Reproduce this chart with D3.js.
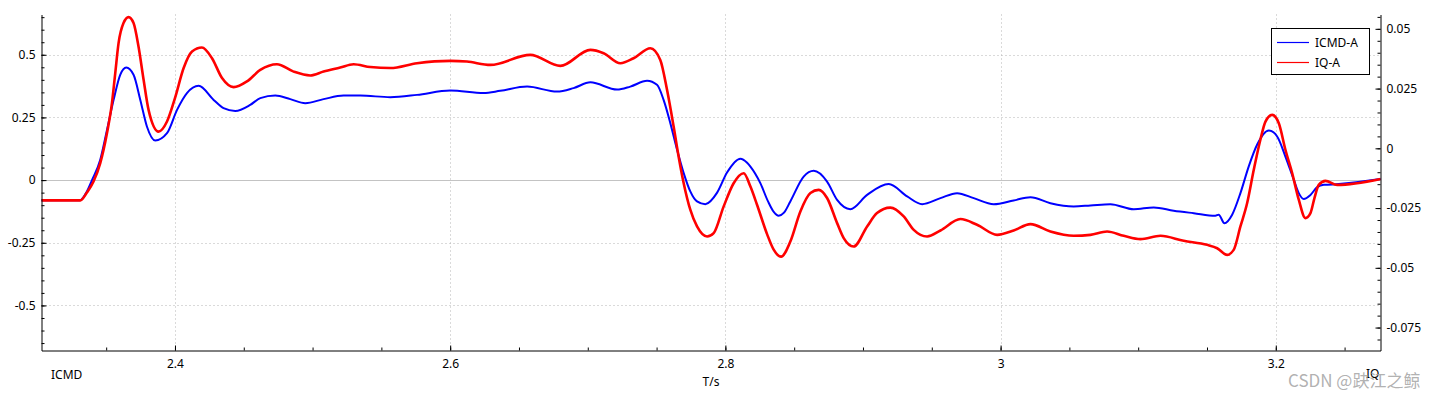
<!DOCTYPE html>
<html>
<head>
<meta charset="utf-8">
<script src="https://cdn.jsdelivr.net/npm/d3@7"></script>
<style>
  body { margin: 0; background: #fff; }
  text { font-family: "Noto Sans", "DejaVu Sans", sans-serif; }
</style>
</head>
<body>
<svg id="graph" width="1456" height="399"></svg>
<script>
// data: time in s, ICMD on the left axis, IQ on the right axis
const icmdTime = [2.3030, 2.3310, 2.3360, 2.3397, 2.3457, 2.3506, 2.3554, 2.3602, 2.3646, 2.3699,
  2.3748, 2.3796, 2.3857, 2.3942, 2.4015, 2.4087, 2.4172, 2.4281, 2.4353, 2.4438,
  2.4547, 2.4620, 2.4729, 2.4838, 2.4947, 2.5080, 2.5225, 2.5347, 2.5565, 2.5759,
  2.6001, 2.6243, 2.6364, 2.6559, 2.6777, 2.6897, 2.7019, 2.7213, 2.7309, 2.7431,
  2.7503, 2.7551, 2.7600, 2.7649, 2.7697, 2.7745, 2.7794, 2.7854, 2.7940, 2.8012,
  2.8109, 2.8158, 2.8182, 2.8254, 2.8310, 2.8353, 2.8387, 2.8426, 2.8472, 2.8569, 2.8642, 2.8739,
  2.8812, 2.8908, 2.9030, 2.9187, 2.9321, 2.9430, 2.9563, 2.9684, 2.9805, 2.9950,
  3.0095, 3.0217, 3.0362, 3.0531, 3.0653, 3.0798, 3.0968, 3.1113, 3.1258, 3.1404,
  3.1561, 3.1585, 3.1627, 3.1683, 3.1743, 3.1803, 3.1864, 3.1949, 3.2010, 3.2070,
  3.2131, 3.2167, 3.2203, 3.2252, 3.2301, 3.2349, 3.2458, 3.2761];
const icmdValue = [-0.080, -0.080, -0.045, 0.000, 0.081, 0.200, 0.320, 0.420, 0.449, 0.420,
  0.320, 0.214, 0.158, 0.187, 0.280, 0.347, 0.376, 0.320, 0.287, 0.276,
  0.300, 0.327, 0.337, 0.323, 0.307, 0.323, 0.337, 0.337, 0.331, 0.340,
  0.357, 0.347, 0.356, 0.373, 0.353, 0.367, 0.390, 0.361, 0.373, 0.396,
  0.380, 0.320, 0.227, 0.121, 0.028, -0.045, -0.085, -0.096, -0.050, 0.030,
  0.085, 0.069, 0.054, -0.012, -0.085, -0.128, -0.142, -0.130, -0.085, 0.014, 0.037, -0.006,
  -0.079, -0.116, -0.059, -0.016, -0.065, -0.096, -0.072, -0.052, -0.072, -0.096,
  -0.081, -0.068, -0.092, -0.105, -0.101, -0.096, -0.116, -0.109, -0.122, -0.132,
  -0.142, -0.138, -0.172, -0.138, -0.052, 0.054, 0.141, 0.198, 0.174, 0.094,
  0.001, -0.052, -0.075, -0.059, -0.028, -0.019, -0.016, 0.004];

const iqTime = [2.3030, 2.3312, 2.3360, 2.3408, 2.3457, 2.3506, 2.3542, 2.3566, 2.3590, 2.3626,
  2.3663, 2.3699, 2.3735, 2.3772, 2.3808, 2.3881, 2.3942, 2.4000, 2.4063, 2.4124,
  2.4196, 2.4269, 2.4342, 2.4426, 2.4523, 2.4620, 2.4741, 2.4862, 2.4983, 2.5080,
  2.5201, 2.5298, 2.5420, 2.5565, 2.5759, 2.6001, 2.6122, 2.6292, 2.6582, 2.6801,
  2.7019, 2.7115, 2.7237, 2.7333, 2.7455, 2.7527, 2.7576, 2.7624, 2.7660, 2.7697,
  2.7745, 2.7794, 2.7867, 2.7915, 2.7987, 2.8060, 2.8133, 2.8182, 2.8230, 2.8303,
  2.8351, 2.8405, 2.8472, 2.8545, 2.8618, 2.8678, 2.8739, 2.8812, 2.8860, 2.8932,
  2.9030, 2.9102, 2.9199, 2.9296, 2.9369, 2.9466, 2.9563, 2.9708, 2.9829, 2.9975,
  3.0095, 3.0217, 3.0362, 3.0531, 3.0653, 3.0774, 3.0895, 3.1016, 3.1162, 3.1331,
  3.1501, 3.1574, 3.1646, 3.1694, 3.1743, 3.1792, 3.1840, 3.1888, 3.1925, 3.1974,
  3.2022, 3.2070, 3.2119, 3.2167, 3.2215, 3.2252, 3.2281, 3.2312, 3.2361, 3.2446,
  3.2761];
const iqValue = [-0.0218, -0.0218, -0.0185, -0.0139, -0.0062, 0.0064, 0.0189, 0.0315, 0.0440, 0.0524,
  0.0549, 0.0524, 0.0426, 0.0287, 0.0161, 0.0070, 0.0112, 0.0210, 0.0336, 0.0405,
  0.0422, 0.0377, 0.0294, 0.0256, 0.0280, 0.0328, 0.0352, 0.0321, 0.0305, 0.0321,
  0.0338, 0.0352, 0.0340, 0.0336, 0.0356, 0.0366, 0.0363, 0.0349, 0.0391, 0.0345,
  0.0412, 0.0398, 0.0356, 0.0377, 0.0419, 0.0370, 0.0245, 0.0091, -0.0034, -0.0146,
  -0.0257, -0.0327, -0.0369, -0.0355, -0.0244, -0.0146, -0.0104, -0.0160, -0.0236, -0.0359,
  -0.0424, -0.0453, -0.0390, -0.0264, -0.0187, -0.0174, -0.0208, -0.0313, -0.0376, -0.0411,
  -0.0327, -0.0271, -0.0248, -0.0285, -0.0341, -0.0369, -0.0344, -0.0296, -0.0320, -0.0362,
  -0.0344, -0.0317, -0.0348, -0.0366, -0.0362, -0.0348, -0.0366, -0.0380, -0.0366, -0.0387,
  -0.0404, -0.0418, -0.0446, -0.0425, -0.0327, -0.0229, -0.0090, 0.0036, 0.0112, 0.0140,
  0.0105, -0.0006, -0.0104, -0.0215, -0.0292, -0.0271, -0.0208, -0.0153, -0.0136, -0.0153,
  -0.0128];

const xTicks = [2.4, 2.6, 2.8, 3.0, 3.2];
const leftTicks = [-0.5, -0.25, 0, 0.25, 0.5];
const rightTicks = [-0.075, -0.05, -0.025, 0, 0.025, 0.05];
const seriesNames = ["ICMD-A", "IQ-A"];
const seriesColors = ["#0000ff", "#ff0000"];

// plot frame
const width = 1456, height = 399;
const plot = { left: 41.5, right: 1380.5, top: 14.5, bottom: 350.5 };

const svg = d3.select('#graph');

const x = d3.scaleLinear().domain([2.303, 3.2761]).range([plot.left, plot.right]);
const yL = d3.scaleLinear().domain([-0.6797, 0.6606]).range([plot.bottom, plot.top]);
const yR = d3.scaleLinear().domain([-0.0846, 0.0560]).range([plot.bottom, plot.top]);

const fmt = v => String(+v.toFixed(3));

// minor tick lists from the major step
function minors(scale, step) {
  const [a, b] = scale.domain();
  const out = [];
  for (let i = Math.ceil(a / step - 1e-9); i * step <= b + 1e-9; i++) out.push(+(i * step).toFixed(4));
  return out;
}

// grid
const grid = svg.append('g');
grid.selectAll('.vgrid').data(xTicks).join('line')
  .attr('x1', d => Math.round(x(d)) + 0.5).attr('x2', d => Math.round(x(d)) + 0.5)
  .attr('y1', plot.top).attr('y2', plot.bottom)
  .attr('stroke', '#b4b4b4').attr('stroke-dasharray', '1,3');
grid.selectAll('.hgrid').data(leftTicks.filter(d => d !== 0)).join('line')
  .attr('x1', plot.left).attr('x2', plot.right)
  .attr('y1', d => Math.round(yL(d)) + 0.5).attr('y2', d => Math.round(yL(d)) + 0.5)
  .attr('stroke', '#b4b4b4').attr('stroke-dasharray', '1,3');
grid.append('line')
  .attr('x1', plot.left).attr('x2', plot.right)
  .attr('y1', Math.round(yL(0)) + 0.5).attr('y2', Math.round(yL(0)) + 0.5)
  .attr('stroke', '#c3c3c3');

// lines
const icmd = icmdTime.map((t, i) => [t, icmdValue[i]]);
const iq = iqTime.map((t, i) => [t, iqValue[i]]);

svg.append('path').datum(icmd)
  .attr('fill', 'none').attr('stroke', seriesColors[0]).attr('stroke-width', 2)
  .attr('d', d3.line().x(d => x(d[0])).y(d => yL(d[1])).curve(d3.curveMonotoneX));
svg.append('path').datum(iq)
  .attr('fill', 'none').attr('stroke', seriesColors[1]).attr('stroke-width', 2.6)
  .attr('d', d3.line().x(d => x(d[0])).y(d => yR(d[1])).curve(d3.curveMonotoneX));

// axes
function styleAxis(sel) {
  sel.selectAll('text').style('font-size', '12px').attr('fill', '#000');
  sel.selectAll('line').attr('stroke', '#000');
  sel.select('.domain').attr('stroke', '#000');
}

const leftAxis = svg.append('g').attr('transform', `translate(${plot.left},0)`)
  .call(d3.axisLeft(yL).tickValues(leftTicks).tickFormat(fmt).tickSize(-5).tickSizeOuter(0).tickPadding(6));
styleAxis(leftAxis);
svg.append('g').attr('transform', `translate(${plot.left},0)`)
  .call(d3.axisLeft(yL).tickValues(minors(yL, 0.05)).tickFormat('').tickSize(-3).tickSizeOuter(0))
  .call(g => g.select('.domain').remove())
  .call(styleAxis);

const rightAxis = svg.append('g').attr('transform', `translate(${plot.right},0)`)
  .call(d3.axisRight(yR).tickValues(rightTicks).tickFormat(fmt).tickSize(-5).tickSizeOuter(0).tickPadding(6));
styleAxis(rightAxis);
svg.append('g').attr('transform', `translate(${plot.right},0)`)
  .call(d3.axisRight(yR).tickValues(minors(yR, 0.005)).tickFormat('').tickSize(-3).tickSizeOuter(0))
  .call(g => g.select('.domain').remove())
  .call(styleAxis);

const bottomAxis = svg.append('g').attr('transform', `translate(0,${plot.bottom})`)
  .call(d3.axisBottom(x).tickValues(xTicks).tickFormat(fmt).tickSize(-5).tickSizeOuter(0).tickPadding(9));
styleAxis(bottomAxis);
svg.append('g').attr('transform', `translate(0,${plot.bottom})`)
  .call(d3.axisBottom(x).tickValues(minors(x, 0.05)).tickFormat('').tickSize(-3).tickSizeOuter(0))
  .call(g => g.select('.domain').remove())
  .call(styleAxis);

// axis titles
svg.append('text').attr('x', 51).attr('y', 379).style('font-size', '12px').text('ICMD');
svg.append('text').attr('x', 711).attr('y', 386).attr('text-anchor', 'middle').style('font-size', '12px').text('T/s');
svg.append('text').attr('x', 1366).attr('y', 378).style('font-size', '12px').text('IQ');

// legend
const legend = svg.append('g');
legend.append('rect').attr('x', 1271.5).attr('y', 28.5).attr('width', 98).attr('height', 46)
  .attr('fill', '#fff').attr('stroke', '#000');
seriesNames.forEach((name, i) => {
  legend.append('line').attr('x1', 1277).attr('x2', 1309)
    .attr('y1', 42.5 + i * 20).attr('y2', 42.5 + i * 20)
    .attr('stroke', seriesColors[i]).attr('stroke-width', 1.2);
  legend.append('text').attr('x', 1315).attr('y', 42.5 + i * 20).attr('dy', '0.35em')
    .style('font-size', '12px').text(name);
});

// watermark (overlaps the IQ title, as in the source image)
svg.append('text').attr('x', 1288).attr('y', 387)
  .style('font-family', '"Noto Sans CJK SC", sans-serif').style('font-size', '17px')
  .attr('fill', '#a8a8a8').attr('fill-opacity', 0.9).text('CSDN @趹江之鲸');
</script>
</body>
</html>
